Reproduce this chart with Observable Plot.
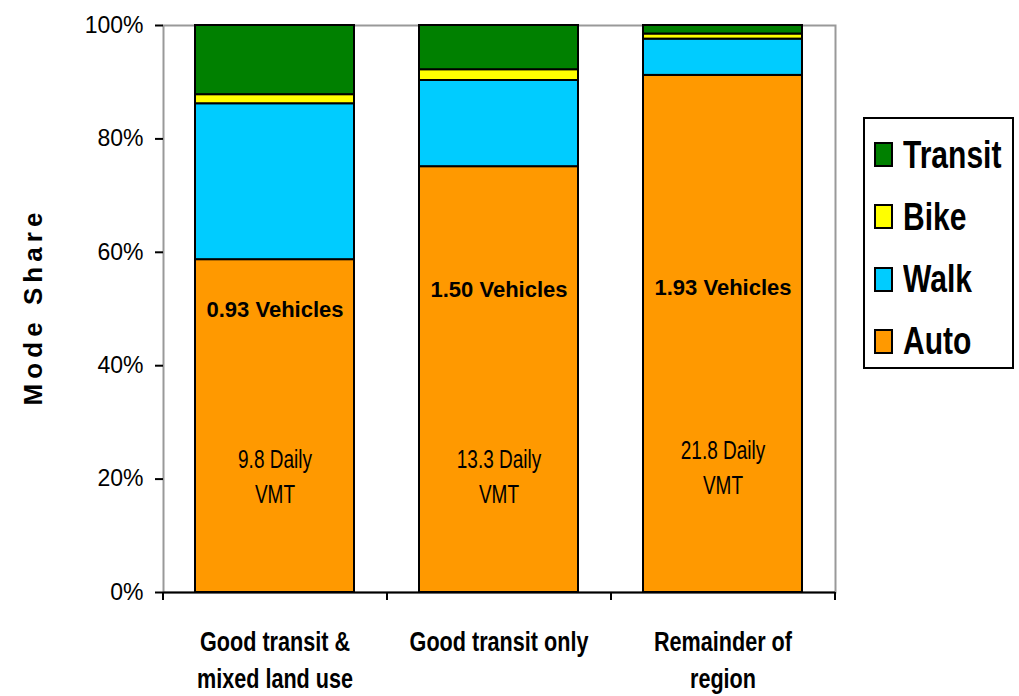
<!DOCTYPE html>
<html>
<head>
<meta charset="utf-8">
<script src="https://cdn.jsdelivr.net/npm/d3@7"></script>
<script src="https://cdn.jsdelivr.net/npm/@observablehq/plot@0.6"></script>
<style>
  body { margin: 0; background: #fff; }
  #wrap { position: relative; width: 1019px; height: 696px; overflow: hidden; }
  #legend { position: absolute; left: 863px; top: 117px; width: 151px; height: 252px; border: 2px solid #000; box-sizing: border-box; font-family: "Liberation Sans", Arial, sans-serif; }
  .item { position: absolute; left: 9px; height: 40px; display: flex; align-items: center; font-weight: bold; font-size: 38px; line-height: 1; white-space: nowrap; }
  .sw { width: 15px; height: 21px; border: 2px solid #000; margin-right: 10px; flex: none; }
  .lab { display: inline-block; transform: scaleX(0.79); transform-origin: left center; }
</style>
</head>
<body>
<div id="wrap"></div>
<script>
const categories = ["Good transit &\nmixed land use", "Good transit only", "Remainder of\nregion"];
const modes = ["Auto", "Walk", "Bike", "Transit"];
const colors = ["#FF9900", "#00CCFF", "#FFFF00", "#008000"];
const autoShare = [58.7, 75.1, 91.2];
const walkShare = [27.5, 15.2, 6.4];
const bikeShare = [1.6, 1.9, 0.9];
const transitShare = [12.2, 7.8, 1.5];
const vehicles = ["0.93 Vehicles", "1.50 Vehicles", "1.93 Vehicles"];
const vmt = ["9.8 Daily\nVMT", "13.3 Daily\nVMT", "21.8 Daily\nVMT"];
const vehicleLabelY = [49.9, 53.4, 53.8];
const vmtLabelY = [20.9, 20.9, 22.5];
const yTicks = [0, 20, 40, 60, 80, 100];

const shares = [autoShare, walkShare, bikeShare, transitShare];
const data = [];
modes.forEach((m, i) => categories.forEach((c, j) => data.push({cat: c, mode: m, value: shares[i][j]})));
const labels = categories.map((c, j) => ({cat: c, veh: vehicles[j], vy: vehicleLabelY[j], vmt: vmt[j], my: vmtLabelY[j]}));

const W = 1019, H = 696, ML = 163, MR = 184, MT = 25, MB = 104;
const step = (W - ML - MR) / categories.length;
const lastCat = categories[categories.length - 1];

const chart = Plot.plot({
  width: W, height: H,
  marginLeft: ML, marginRight: MR, marginTop: MT, marginBottom: MB,
  style: {fontFamily: '"Liberation Sans", Arial, sans-serif', background: "#fff", overflow: "visible"},
  x: {domain: categories, paddingInner: 0.29, paddingOuter: 0.145, axis: null},
  y: {domain: [0, 100], axis: null},
  color: {domain: modes, range: colors},
  marks: [
    Plot.frame({stroke: "#999", strokeWidth: 2}),
    Plot.barY(data, Plot.stackY({order: modes}, {x: "cat", y: "value", fill: "mode", stroke: "#000", strokeWidth: 2})),
    Plot.ruleY([0], {stroke: "#000", strokeWidth: 2}),
    Plot.ruleX([0], {x: () => 0, stroke: "#000", strokeWidth: 2, frameAnchor: "left", insetBottom: -8}),
    Plot.ruleX(categories, {x: d => d, y1: 0, y2: 0, dx: -step / 2, insetBottom: -8, stroke: "#000", strokeWidth: 2}),
    Plot.ruleX([lastCat], {x: d => d, y1: 0, y2: 0, dx: step / 2, insetBottom: -8, stroke: "#000", strokeWidth: 2}),
    Plot.axisY({ticks: yTicks, tickFormat: d => d + "%", fontSize: 23, tickSize: 8, tickPadding: 12, label: null, stroke: "#000", strokeWidth: 2}),
    Plot.text(categories, {x: d => d, text: d => d.split("\n")[0], frameAnchor: "bottom", lineAnchor: "middle", dy: 50, fontSize: 27, fontWeight: "bold", fill: "#000", ariaDescription: "xlabels"}),
    Plot.text(categories, {x: d => d, text: d => d.split("\n")[1] || "", frameAnchor: "bottom", lineAnchor: "middle", dy: 87, fontSize: 27, fontWeight: "bold", fill: "#000", ariaDescription: "xlabels"}),
    Plot.text(labels, {x: "cat", y: "vy", text: "veh", fontSize: 22, fontWeight: "bold", fill: "#000", ariaDescription: "vehicles"}),
    Plot.text(labels, {x: "cat", y: "my", text: "vmt", fontSize: 25, fill: "#000", lineHeight: 1.4, ariaDescription: "vmt"}),
    Plot.text(["Mode Share"], {frameAnchor: "left", textAnchor: "middle", dx: -130, rotate: -90, fontSize: 26, fontWeight: "bold", fill: "#000", ariaDescription: "ylabel"})
  ]
});
document.getElementById("wrap").appendChild(chart);

const xLines = new Set(categories.flatMap(c => c.split("\n")));
const vmtLines = new Set(vmt.flatMap(v => v.split("\n")));

function squeezeWhere(pred, factor) {
  d3.select(chart).selectAll("text").each(function () {
    const tspans = this.querySelectorAll("tspan");
    const targets = tspans.length ? Array.from(tspans) : [this];
    targets.forEach(t => {
      if (!pred(t.textContent)) return;
      const len = t.getComputedTextLength();
      if (len > 0) {
        t.setAttribute("textLength", (len * factor).toFixed(1));
        t.setAttribute("lengthAdjust", "spacingAndGlyphs");
      }
    });
  });
}
squeezeWhere(s => xLines.has(s), 0.8);
squeezeWhere(s => vmtLines.has(s), 0.76);
d3.select(chart).selectAll("text").filter(function () { return this.textContent === "Mode Share"; })
  .attr("textLength", 193).attr("lengthAdjust", "spacing");

const legend = document.createElement("div");
legend.id = "legend";
const order = ["Transit", "Bike", "Walk", "Auto"];
order.forEach((m, i) => {
  const it = document.createElement("div");
  it.className = "item";
  it.style.top = (15.5 + i * 62.3) + "px";
  const sw = document.createElement("div");
  sw.className = "sw";
  sw.style.background = colors[modes.indexOf(m)];
  const t = document.createElement("span");
  t.className = "lab";
  t.textContent = m;
  it.appendChild(sw); it.appendChild(t);
  legend.appendChild(it);
});
document.getElementById("wrap").appendChild(legend);
</script>
</body>
</html>
